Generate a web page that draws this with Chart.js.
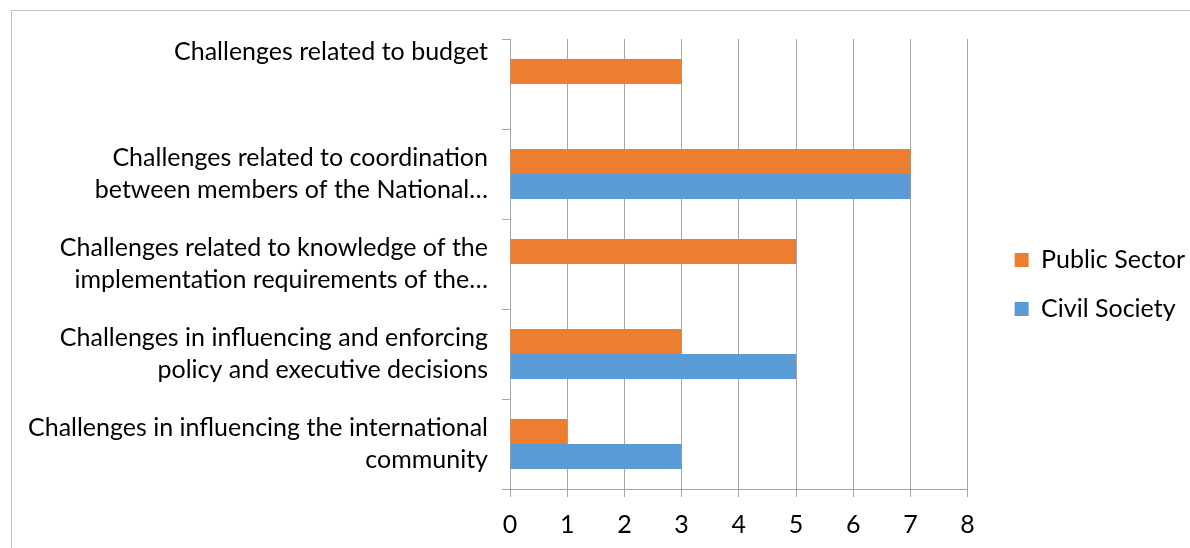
<!DOCTYPE html>
<html>
<head>
<meta charset="utf-8">
<script src="https://cdn.jsdelivr.net/npm/chart.js@4.4.1/dist/chart.umd.min.js"></script>
<style>
  html, body { margin: 0; padding: 0; background: #fff; overflow: hidden; }
  #frame { position: absolute; left: 11px; top: 10px; width: 1300px; height: 700px; border: 1px solid #c0c0c0; }
  #wrap { position: absolute; left: 0; top: 0; width: 1190px; height: 548px; }
</style>
</head>
<body>
<div id="frame"></div>
<div id="wrap"><canvas id="barChart" width="1190" height="548"></canvas></div>
<script>
// categories, top to bottom
const categories = [
    ['Challenges related to budget', '', ''],
    ['Challenges related to coordination', 'between members of the National…'],
    ['Challenges related to knowledge of the', 'implementation requirements of the…'],
    ['Challenges in influencing and enforcing', 'policy and executive decisions'],
    ['Challenges in influencing the international', 'community']
];
const publicSector = [3, 7, 5, 3, 1];
const civilSociety = [0, 7, 0, 5, 3];
const xTicks = [0, 1, 2, 3, 4, 5, 6, 7, 8];

const gridColor = '#a6a6a6';
const labelFont = { family: 'Lato', size: 25, lineHeight: '32px' };

// nudge the legend away from the plot, like the original
const legendShift = {
    id: 'legendShift',
    afterLayout: function(chart) {
        const lg = chart.legend;
        lg.left += 23;
        lg.right += 23;
        lg.top -= 9;
        lg.bottom -= 9;
    }
};

var canvas = document.getElementById('barChart');
var chartInstance = new Chart(canvas, {
    type: 'bar',
    data: {
        labels: categories,
        datasets: [
            { label: 'Public Sector', data: publicSector, backgroundColor: '#ed7d31' },
            { label: 'Civil Society', data: civilSociety, backgroundColor: '#5b9bd5' }
        ]
    },
    options: {
        indexAxis: 'y',
        responsive: false,
        animation: false,
        devicePixelRatio: 1,
        categoryPercentage: 0.556,
        barPercentage: 1,
        layout: { padding: { top: 39, left: 0, right: 18, bottom: 0 } },
        plugins: {
            legend: {
                position: 'right',
                labels: {
                    boxWidth: 14,
                    boxHeight: 14,
                    padding: 24,
                    color: '#000',
                    font: labelFont
                }
            },
            tooltip: { enabled: false }
        },
        scales: {
            x: {
                min: 0,
                max: 8,
                afterBuildTicks: function(scale) {
                    scale.ticks = xTicks.map(function(v) { return { value: v }; });
                },
                afterFit: function(scale) { scale.height = 59; },
                grid: { color: gridColor, lineWidth: 1, tickLength: 8 },
                border: { color: gridColor },
                ticks: { color: '#000', font: labelFont, padding: 12, maxRotation: 0 }
            },
            y: {
                afterFit: function(scale) {
                    scale.width = 510;
                    scale.paddingTop = 0;
                    scale.paddingBottom = 0;
                },
                grid: { drawOnChartArea: false, drawTicks: true, tickLength: 8, color: gridColor, offset: true },
                border: { color: gridColor },
                ticks: { color: '#000', font: labelFont, padding: 14, autoSkip: false }
            }
        }
    },
    plugins: [legendShift]
});
</script>
</body>
</html>
